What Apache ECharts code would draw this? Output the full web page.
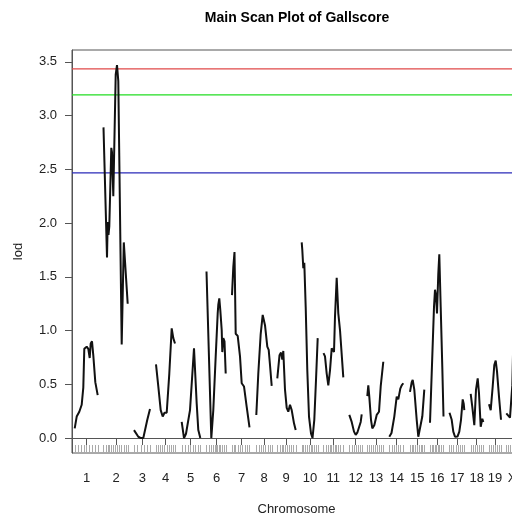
<!DOCTYPE html>
<html>
<head>
<meta charset="utf-8">
<script src="https://cdn.jsdelivr.net/npm/echarts@6/dist/echarts.min.js"></script>
<style>html,body{margin:0;padding:0;background:#fff}#c{width:512px;height:515px}</style>
</head>
<body>
<div id="c"></div>
<script>
// Chromosome names and the genome position of each chromosome's label
const chromNames = ['1','2','3','4','5','6','7','8','9','10','11','12','13','14','15','16','17','18','19','X'];
const chromCenters = [14.5,44,70.3,93.7,118.7,144.5,169.7,192,214,238,261.3,283.7,304,324.7,345.3,365.3,385.3,404.7,423,440];
const yTicks = [0,0.5,1,1.5,2,2.5,3,3.5];
// Significance thresholds (LOD)
const thresholds = [3.435, 3.193, 2.467];

// LOD profiles per chromosome: [genome position, lod]
const chr1 = [[2.7,0.09],[4.7,0.20],[7.3,0.245],[9.7,0.31],[11.3,0.47],[12.3,0.83],[14.7,0.85],[16.3,0.83],[17.7,0.745],[18.7,0.88],[20,0.90],[21.3,0.77],[23.3,0.52],[25.7,0.40]];
const chr2 = [[31.5,2.89],[35,1.68],[35.7,2.01],[36.5,1.89],[37.3,1.97],[39.3,2.70],[40,2.66],[41.3,2.25],[43.7,3.38],[45,3.47],[46.3,3.32],[49.7,0.87],[51.8,1.82],[55.7,1.25]];
const chr3 = [[62,0.074],[66.3,0.012],[69,0.0],[71.3,0.0],[73,0.01],[75.3,0.17],[78,0.27]];
const chr4 = [[84,0.685],[86.3,0.48],[88.7,0.26],[90.7,0.20],[92.5,0.235],[94.7,0.235],[97.3,0.60],[99.7,1.02],[101.3,0.93],[103,0.88]];
const chr5 = [[109.7,0.15],[112,0.0],[114,0.04],[118,0.26],[122,0.835],[124.7,0.32],[126.3,0.074],[128.3,0.0]];
const chr6 = [[134.5,1.55],[139.3,0.0],[141.3,0.26],[143.7,0.76],[145.7,1.16],[146.3,1.24],[147.3,1.30],[148.3,1.19],[149.7,1.005],[150.3,0.80],[151.3,0.93],[152.5,0.90],[153.7,0.60]];
const chr7 = [[160,1.33],[161.3,1.59],[162.5,1.73],[163.7,0.97],[165.7,0.95],[168,0.76],[169.7,0.51],[172,0.48],[174.7,0.29],[177.5,0.10]];
const chr8 = [[184.3,0.215],[186.3,0.60],[188.7,0.97],[190.7,1.145],[191.3,1.16],[193,1.05],[195.3,0.85],[196.7,0.82],[198,0.68],[199.7,0.485]];
const chr9 = [[205.3,0.555],[207.5,0.77],[209,0.795],[210.3,0.73],[211.3,0.81],[213,0.45],[214.7,0.28],[216.3,0.245],[218,0.31],[219.7,0.26],[222,0.137],[223.7,0.074]];
const chr10 = [[229.7,1.82],[230.3,1.75],[231.3,1.58],[232.3,1.63],[233.7,1.22],[235.3,0.63],[237,0.20],[239,0.044],[240.5,0.0],[242.3,0.17],[244,0.54],[245.7,0.93]];
const chr11 = [[251.5,0.79],[253,0.76],[254.7,0.60],[256.3,0.49],[258,0.63],[259.7,0.835],[261,0.82],[262,0.80],[263,1.13],[264.7,1.49],[266.3,1.16],[268,1.005],[271.3,0.565]];
const chr12 = [[277.3,0.215],[279.7,0.15],[282,0.06],[283.7,0.03],[285.3,0.05],[287,0.044],[288.7,0.15],[289.7,0.22]];
const chr13 = [[295.3,0.39],[296.3,0.49],[297.3,0.385],[299,0.17],[300.3,0.09],[302.3,0.12],[304.7,0.215],[307,0.245],[308.7,0.48],[311.3,0.71]];
const chr14 = [[317.3,0.012],[319.5,0.047],[322.3,0.20],[324.7,0.385],[326.3,0.36],[328.3,0.46],[329.7,0.49],[331.3,0.51]];
const chr15 = [[338,0.43],[339.7,0.52],[340.7,0.54],[342.3,0.45],[344.7,0.17],[346.3,0.012],[348,0.02],[350.3,0.20],[352.3,0.45]];
const chr16 = [[358,0.142],[359.7,0.60],[362,1.22],[363,1.38],[364,1.33],[365,1.16],[366.3,1.53],[367.3,1.71],[368.7,1.22],[370.3,0.66],[371.5,0.20]];
const chr17 = [[377.5,0.235],[379.7,0.17],[381.3,0.06],[383,0.012],[385.5,0.014],[387.3,0.06],[389,0.17],[390.7,0.36],[391.7,0.32],[392.3,0.26]];
const chr18 = [[398.7,0.41],[400.3,0.29],[402.3,0.12],[404,0.45],[405.7,0.555],[407,0.415],[408.7,0.105],[410.3,0.18],[411.3,0.15]];
const chr19 = [[417,0.315],[418.7,0.26],[420.7,0.48],[422.3,0.68],[423.7,0.72],[425,0.62],[427,0.385],[429,0.17]];
const chrX = [[434.3,0.23],[436.3,0.245],[438,0.19],[440.3,0.49],[442,1.19],[444,1.28],[446,0.91]];

// Marker positions (rug)
const markers = [3,6,9,12,14,17,20,23,26,
  31.5,34,36,37.5,39,41,43.5,45,47,49.5,52,54,56,
  62,65,69,72,75,78,
  84,86,88.5,90.5,92.5,95,97.5,99.5,101,103,
  110,113,116,118,121,123,126,128,
  134,137,139,141,143,144,145.5,147,148.5,150,152,154,
  160,162,163.5,166,168,170,173,175,177.5,
  184,187,189,191,193,196,198,200,
  205,208,210,211.5,213,215,217,219,221,224,
  230,231.5,233,235,237,239,240.5,242,244,246,
  251.5,254,256,258,259.5,261,263,264.5,266,268,271,
  277.5,280,282,284,286,288,290,
  295.5,297,299,301,303,305,307,309,311.5,
  317.5,320,322,324,326,328,331.5,
  338,340,341.5,343,345,347,349,350.5,352.5,
  358,360,361.5,363,364.5,366,367.5,369,371.5,
  377.5,379.5,381.5,384,386,388,390,392.5,
  399,401,403,405,407,409,411.5,
  417,419,421,423,425,427,429,
  434,436,438,440,443,446];

const profiles = [chr1,chr2,chr3,chr4,chr5,chr6,chr7,chr8,chr9,chr10,chr11,chr12,chr13,chr14,chr15,chr16,chr17,chr18,chr19,chrX];
const thresholdColors = ['#e04848', '#22dd22', '#2a2ab8'];

const FONT = 'Liberation Sans, Arial, sans-serif';
const X_MIN = 0, X_MAX = 449;
const chart = echarts.init(document.getElementById('c'), null, {renderer: 'canvas'});

// Threshold lines spanning the full axis
const series = thresholds.map((t, k) => ({
  type: 'line',
  data: [[X_MIN, t], [X_MAX, t]],
  showSymbol: false,
  symbol: 'none',
  silent: true,
  itemStyle: {color: thresholdColors[k]},
  lineStyle: {color: thresholdColors[k], width: 1.2, opacity: 1}
}));

profiles.forEach(d => series.push({
  type: 'line',
  data: d,
  showSymbol: false,
  symbol: 'none',
  smooth: false,
  lineStyle: {color: '#111', width: 2},
  clip: true,
  silent: true
}));

chart.setOption({
  animation: false,
  backgroundColor: '#fff',
  graphic: [{
    type: 'text',
    x: 297, y: 18,
    style: {text: 'Main Scan Plot of Gallscore', font: 'bold 14px ' + FONT, fill: '#000', textAlign: 'center', textVerticalAlign: 'middle'}
  }],
  grid: {left: 72, top: 50, width: 449, height: 403, outerBoundsMode: 'none', containLabel: false,
    show: true, borderColor: '#555', borderWidth: 1, backgroundColor: 'transparent'},
  xAxis: [{
    type: 'value', min: X_MIN, max: X_MAX,
    name: 'Chromosome', nameLocation: 'middle', nameGap: 50,
    nameTextStyle: {fontFamily: FONT, fontSize: 13, color: '#222'},
    axisLine: {show: true, lineStyle: {color: '#555', width: 1}},
    splitLine: {show: false},
    axisTick: {show: true, inside: false, length: 7, customValues: chromCenters, lineStyle: {color: '#555'}},
    axisLabel: {show: true, customValues: chromCenters, margin: 19, fontFamily: FONT, fontSize: 13, color: '#222',
      formatter: v => { const i = chromCenters.indexOf(v); return i >= 0 ? chromNames[i] : ''; }}
  }, {
    type: 'value', min: X_MIN, max: X_MAX, position: 'bottom',
    axisLine: {show: false},
    splitLine: {show: false},
    axisLabel: {show: false},
    axisTick: {show: true, inside: true, length: 8, customValues: markers, lineStyle: {color: '#aaa', width: 1}}
  }],
  yAxis: {
    type: 'value', min: -0.139, max: 3.61,
    name: 'lod', nameLocation: 'middle', nameGap: 47, nameRotate: 90,
    nameTextStyle: {fontFamily: FONT, fontSize: 13, color: '#222'},
    axisLine: {show: true, lineStyle: {color: '#555', width: 1}},
    splitLine: {show: false},
    axisTick: {show: true, inside: false, length: 7, customValues: yTicks, lineStyle: {color: '#555'}},
    axisLabel: {show: true, customValues: yTicks, margin: 15, fontFamily: FONT, fontSize: 13, color: '#222',
      formatter: v => v.toFixed(1)}
  },
  series: series
});
</script>
</body>
</html>
